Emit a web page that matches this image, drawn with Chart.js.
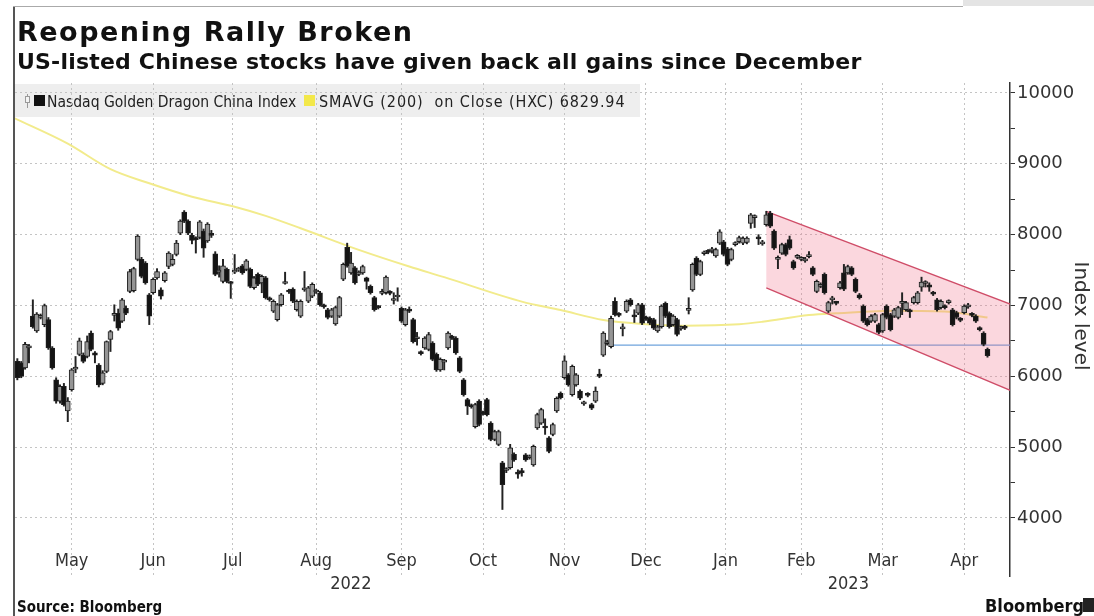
<!DOCTYPE html>
<html lang="en">
<head>
<meta charset="UTF-8">
<title>Reopening Rally Broken</title>
<script src="https://cdn.jsdelivr.net/npm/chart.js@4.4.1/dist/chart.umd.min.js"></script>
<style>
  body { margin: 0; background: #fff; }
  .frame { position: relative; width: 1094px; height: 616px; overflow: hidden; font-family: 'DejaVu Sans', sans-serif; color: #111; }
  #chart { position: absolute; left: 0; top: 0; }
  .title { position: absolute; left: 17px; top: 18px; font-weight: bold; font-size: 27px; line-height: 27px; letter-spacing: 1.5px; white-space: nowrap; }
  .subtitle { position: absolute; left: 17px; top: 51px; font-weight: bold; font-size: 22px; line-height: 22px; letter-spacing: 0.2px; white-space: nowrap; }
  .source { position: absolute; left: 17px; top: 600px; font-family: 'DejaVu Sans Condensed', sans-serif; font-weight: bold; font-size: 15px; line-height: 15px; white-space: nowrap; }
  .brand { position: absolute; left: 985px; top: 597px; font-family: 'DejaVu Sans Condensed', sans-serif; font-weight: bold; font-size: 18px; line-height: 18px; white-space: nowrap; }
  .brand-mark { position: absolute; left: 1083px; top: 598px; width: 11px; height: 14px; background: #222; }
  .edge-left { position: absolute; left: 13px; top: 6px; width: 2px; height: 610px; background: #555; }
  .edge-top { position: absolute; left: 13px; top: 6px; width: 950px; height: 1px; background: #aaa; }
  .corner { position: absolute; left: 963px; top: 0; width: 131px; height: 6px; background: #e4e4e4; }
</style>
</head>
<body>
<div class="frame">
  <canvas id="chart" width="1094" height="616"></canvas>
  <div class="edge-left"></div>
  <div class="edge-top"></div>
  <div class="corner"></div>
  <div class="title">Reopening Rally Broken</div>
  <div class="subtitle">US-listed Chinese stocks have given back all gains since December</div>
  <div class="source">Source: Bloomberg</div>
  <div class="brand">Bloomberg</div>
  <div class="brand-mark"></div>
</div>
<script>
// daily candles, one per trading day from late Apr 2022 to 25 Apr 2023 (x = trading-day index)
const opens = [
  6210, 6190, 6120, 6400, 6850, 6640, 6830, 6730, 6800, 6400,
  5950, 5650, 5860, 5510, 5810, 6100, 6310, 6300, 6280, 6610,
  6330, 6160, 5900, 6070, 6520, 6860, 6890, 6780, 6960, 7200,
  7210, 7650, 7650, 7600, 7150, 7180, 7390, 7220, 7350, 7550,
  7580, 7720, 8020, 8320, 8190, 7990, 7950, 7960, 8050, 7910,
  8010, 7730, 7470, 7340, 7510, 7330, 7470, 7500, 7560, 7510,
  7510, 7250, 7440, 7320, 7390, 7100, 6920, 6800, 7010, 7310,
  7210, 7230, 6940, 6850, 7220, 7060, 7130, 7190, 7180, 7000,
  6940, 6850, 6740, 6850, 7370, 7820, 7460, 7530, 7440, 7460,
  7390, 7270, 7110, 6990, 7170, 7180, 7190, 7070, 7120, 6960,
  6730, 6950, 6800, 6530, 6340, 6400, 6380, 6470, 6310, 6090,
  6200, 6400, 6560, 6540, 6260, 5950, 5670, 5590, 5290, 5650,
  5490, 5670, 5340, 5110, 5040, 4780, 4670, 4710, 4900, 4640,
  4660, 4890, 4850, 4750, 5270, 5340, 5290, 5130, 5180, 5510,
  5760, 5980, 6020, 5740, 5880, 5790, 5610, 5750, 5600, 5650,
  6030, 6300, 6460, 6420, 7060, 6880, 6670, 6920, 7080, 6860,
  6890, 7010, 6830, 6820, 6800, 6640, 6700, 7030, 6890, 6730,
  6800, 6670, 6700, 6930, 7220, 7670, 7440, 7730, 7770, 7770,
  7700, 7880, 7900, 7800, 7650, 7860, 7900, 7880, 7890, 8160,
  8240, 7960, 7870, 8140, 8300, 8050, 7650, 7740, 7860, 7930,
  7620, 7680, 7650, 7630, 7690, 7530, 7200, 7270, 7440, 6920,
  7080, 7050, 7250, 7460, 7460, 7530, 7370, 7150, 6990, 6800,
  6780, 6780, 6730, 6640, 6990, 6870, 6850, 6830, 7030, 6940,
  6930, 7040, 7040, 7260, 7310, 7290, 7180, 7080, 6970, 6990,
  7040, 6940, 6900, 6810, 6900, 6980, 6880, 6850, 6680, 6610,
  6380
];
const highs = [
  6250, 6210, 6480, 6450, 7080, 6900, 6880, 7020, 6830, 6420,
  5980, 5880, 5900, 5700, 6110, 6280, 6540, 6330, 6570, 6640,
  6350, 6180, 6080, 6500, 6650, 7010, 6950, 7100, 6990, 7510,
  7540, 8000, 7680, 7620, 7170, 7390, 7520, 7250, 7480, 7760,
  7720, 7920, 8210, 8340, 8210, 8020, 7970, 8200, 8080, 8170,
  8060, 7760, 7560, 7650, 7530, 7340, 7720, 7540, 7580, 7650,
  7530, 7410, 7460, 7430, 7410, 7120, 7080, 7030, 7170, 7470,
  7230, 7250, 7080, 7080, 7480, 7270, 7320, 7230, 7200, 7020,
  6960, 6960, 6990, 7130, 7600, 7880, 7750, 7550, 7490, 7570,
  7400, 7290, 7130, 7000, 7230, 7420, 7210, 7180, 7250, 6980,
  6960, 6980, 6820, 6620, 6360, 6560, 6620, 6490, 6330, 6260,
  6240, 6630, 6580, 6560, 6280, 5970, 5690, 5610, 5620, 5670,
  5510, 5690, 5360, 5240, 5240, 4800, 4710, 5040, 4920, 4680,
  4700, 4910, 4890, 5030, 5480, 5550, 5400, 5150, 5340, 5710,
  5780, 6290, 6040, 6160, 6040, 5810, 5650, 5770, 5620, 5850,
  6100, 6630, 6510, 6850, 7110, 6900, 6740, 7080, 7100, 6940,
  7030, 7030, 6850, 6840, 6820, 6720, 7010, 7050, 6910, 6870,
  6820, 6710, 6720, 7110, 7600, 7690, 7640, 7770, 7790, 7820,
  7810, 8070, 7920, 7820, 7810, 7900, 7980, 7970, 7970, 8300,
  8280, 8000, 7920, 8330, 8330, 8070, 7700, 7880, 7880, 7980,
  7640, 7720, 7690, 7680, 7760, 7550, 7360, 7320, 7460, 7060,
  7130, 7060, 7340, 7580, 7570, 7550, 7390, 7170, 7010, 6820,
  6870, 6890, 6750, 6890, 7010, 6890, 6960, 6990, 7180, 7060,
  6950, 7130, 7200, 7400, 7350, 7320, 7200, 7100, 7080, 7010,
  7080, 6960, 6920, 6830, 7010, 7030, 6900, 6870, 6700, 6630,
  6400
];
const lows = [
  5950, 5980, 6100, 6190, 6680, 6620, 6810, 6700, 6380, 6100,
  5620, 5620, 5580, 5360, 5790, 6050, 6290, 6190, 6260, 6360,
  6190, 5850, 5880, 6050, 6350, 6780, 6650, 6760, 6870, 7180,
  7190, 7630, 7390, 7300, 6730, 7160, 7370, 7090, 7330, 7520,
  7560, 7700, 8000, 8170, 8000, 7870, 7740, 7940, 7680, 7890,
  7960, 7420, 7400, 7320, 7320, 7100, 7450, 7480, 7440, 7490,
  7250, 7230, 7280, 7180, 7090, 7060, 6900, 6780, 6990, 7300,
  7170, 7040, 6920, 6830, 7200, 7040, 7110, 7170, 6990, 6960,
  6810, 6830, 6720, 6830, 7350, 7540, 7440, 7300, 7420, 7440,
  7230, 7160, 6920, 6950, 7150, 7160, 7150, 7020, 7060, 6760,
  6710, 6900, 6470, 6440, 6300, 6380, 6360, 6220, 6070, 6070,
  6090, 6380, 6520, 6310, 6050, 5720, 5460, 5550, 5270, 5300,
  5450, 5440, 5090, 5090, 5020, 4120, 4640, 4690, 4800, 4560,
  4590, 4800, 4830, 4730, 5250, 5320, 5180, 4920, 5160, 5490,
  5680, 5960, 5860, 5720, 5860, 5670, 5590, 5710, 5530, 5630,
  5980, 6280, 6440, 6400, 6850, 6840, 6570, 6900, 6990, 6760,
  6870, 6730, 6790, 6730, 6660, 6620, 6680, 6830, 6680, 6710,
  6570, 6650, 6660, 6880, 7200, 7420, 7420, 7710, 7730, 7740,
  7680, 7860, 7700, 7560, 7630, 7840, 7880, 7860, 7870, 8090,
  8100, 7860, 7850, 8120, 8100, 7790, 7520, 7720, 7700, 7790,
  7510, 7660, 7630, 7610, 7670, 7420, 7180, 7250, 7160, 6900,
  7020, 7010, 7230, 7210, 7440, 7420, 7180, 7090, 6760, 6710,
  6760, 6760, 6600, 6620, 6810, 6640, 6830, 6810, 6870, 6920,
  6830, 7020, 7020, 7200, 7260, 7200, 7140, 6920, 6950, 6950,
  7020, 6710, 6810, 6770, 6880, 6960, 6840, 6760, 6640, 6430,
  6270
];
const closes = [
  5980, 6000, 6450, 6430, 6700, 6880, 6860, 7000, 6400, 6120,
  5650, 5860, 5600, 5650, 6090, 6130, 6500, 6210, 6490, 6380,
  6300, 5880, 6050, 6490, 6630, 6890, 6680, 7080, 6890, 7480,
  7520, 7980, 7410, 7320, 6850, 7370, 7480, 7130, 7460, 7740,
  7650, 7880, 8190, 8190, 8020, 7920, 7930, 8180, 7810, 8150,
  7990, 7440, 7490, 7560, 7340, 7310, 7490, 7520, 7460, 7630,
  7270, 7390, 7300, 7410, 7110, 7080, 7060, 7010, 7150, 7330,
  7190, 7060, 7060, 7060, 7240, 7250, 7300, 7210, 7010, 6980,
  6830, 6940, 6970, 7110, 7580, 7560, 7600, 7320, 7470, 7550,
  7340, 7180, 6940, 6970, 7190, 7400, 7170, 7090, 7140, 6780,
  6940, 6920, 6490, 6550, 6320, 6540, 6590, 6240, 6090, 6240,
  6220, 6610, 6540, 6330, 6070, 5740, 5580, 5570, 5600, 5320,
  5470, 5460, 5110, 5220, 5220, 4470, 4690, 4990, 4820, 4620,
  4640, 4820, 4870, 5010, 5460, 5530, 5270, 4940, 5320, 5690,
  5700, 6220, 5880, 6140, 6020, 5690, 5630, 5730, 5550, 5790,
  6000, 6610, 6480, 6820, 6870, 6860, 6690, 7060, 7010, 6840,
  7010, 6750, 6810, 6750, 6680, 6700, 6990, 6850, 6700, 6850,
  6590, 6690, 6680, 6950, 7580, 7440, 7620, 7750, 7750, 7800,
  7790, 8040, 7720, 7580, 7790, 7880, 7960, 7950, 7950, 8280,
  8260, 7940, 7890, 8280, 8120, 7810, 7670, 7860, 7720, 7810,
  7530, 7700, 7670, 7650, 7710, 7440, 7340, 7290, 7180, 7040,
  7100, 7030, 7320, 7230, 7550, 7440, 7200, 7110, 6780, 6730,
  6850, 6870, 6620, 6870, 6830, 6660, 6940, 6970, 7050, 7040,
  6910, 7110, 7180, 7330, 7330, 7260, 7160, 6940, 7060, 6970,
  7060, 6730, 6830, 6790, 6990, 7000, 6860, 6780, 6660, 6450,
  6290
];

// 200-day simple moving average, sampled along the curve
const smaDays = [-1, 13, 24, 34, 45, 56, 64, 73, 88, 101, 110, 130, 140, 151, 161, 172, 186, 192, 204, 211, 227, 240, 250];
const smaVals = [9650, 9285, 8925, 8725, 8535, 8395, 8265, 8090, 7785, 7550, 7400, 7055, 6935, 6795, 6740, 6715, 6735, 6770, 6865, 6890, 6925, 6910, 6829.94];

// December support level
const supportDays = [153, 257];
const supportVals = [6440, 6440];

// falling channel since the late-January peak
const channelDays = [193, 257];
const channelTop = [8330, 6995];
const channelBottom = [7250, 5775];

// month axis: first trading-day index of each month, May 2022 .. May 2023
const months = ['May', 'Jun', 'Jul', 'Aug', 'Sep', 'Oct', 'Nov', 'Dec', 'Jan', 'Feb', 'Mar', 'Apr'];
const monthStarts = [4, 25, 46, 66, 89, 110, 131, 152, 173, 193, 212, 235, 254];
const years = ['2022', '2023'];
const yearStarts = [0, 173];

const yTicks = [4000, 4500, 5000, 5500, 6000, 6500, 7000, 7500, 8000, 8500, 9000, 9500, 10000];

const upFill = '#959595', downFill = '#141414', outline = '#1e1e1e';
const isUp = closes.map((c, i) => c >= opens[i]);

const bodies = opens.map((o, i) => ({ x: i, y: [Math.min(o, closes[i]), Math.max(o, closes[i])] }));
const wicks = highs.map((h, i) => ({ x: i, y: [lows[i], h] }));
const pairs = (xs, ys) => xs.map((x, i) => ({ x: x, y: ys[i] }));

const channelShape = pairs(channelDays, channelTop).concat(pairs(channelDays.slice().reverse(), channelBottom.slice().reverse()));

// legend band, month / year labels, axis caption
const overlay = {
  id: 'overlay',
  beforeDraw(chart) {
    const ctx = chart.ctx;
    ctx.save();
    ctx.fillStyle = '#eeeeee';
    ctx.fillRect(15, 84, 625, 33);
    // candle glyph
    ctx.strokeStyle = '#9a9a9a';
    ctx.lineWidth = 1;
    ctx.beginPath();
    ctx.moveTo(27.5, 94); ctx.lineTo(27.5, 108);
    ctx.stroke();
    ctx.fillStyle = '#f4f4f4';
    ctx.fillRect(25.5, 96.5, 4, 6);
    ctx.strokeRect(25.5, 96.5, 4, 6);
    ctx.fillStyle = '#111';
    ctx.fillRect(34, 95, 11, 11);
    ctx.fillStyle = '#f3e84a';
    ctx.fillRect(304, 95, 11, 11);
    ctx.fillStyle = '#222';
    ctx.textBaseline = 'alphabetic';
    ctx.font = "15.5px 'DejaVu Sans Condensed'";
    ctx.fillText('Nasdaq Golden Dragon China Index', 47, 107);
    ctx.font = "16px 'DejaVu Sans Condensed'";
    ctx.letterSpacing = '0.9px';
    ctx.fillText('SMAVG (200)  on Close (HXC) ' + smaVals[smaVals.length - 1].toFixed(2), 319, 107);
    ctx.restore();
  },
  afterDraw(chart) {
    const ctx = chart.ctx;
    const x = chart.scales.x;
    ctx.save();
    ctx.fillStyle = '#333';
    ctx.textAlign = 'center';
    ctx.textBaseline = 'middle';
    ctx.font = "18px 'DejaVu Sans Condensed'";
    months.forEach((m, k) => {
      const mid = (monthStarts[k] + monthStarts[k + 1]) / 2 - 0.5;
      ctx.fillText(m, x.getPixelForValue(mid), 561);
    });
    years.forEach((yr, k) => {
      const from = k === 0 ? x.min : yearStarts[k] - 0.5;
      const to = k === years.length - 1 ? x.max : yearStarts[k + 1] - 0.5;
      ctx.fillText(yr, x.getPixelForValue((from + to) / 2), 584);
    });
    // y axis caption, read top to bottom
    ctx.translate(1080, 316);
    ctx.rotate(Math.PI / 2);
    ctx.font = "20px 'DejaVu Sans'";
    ctx.fillText('Index level', 0, 0);
    ctx.restore();
  }
};

new Chart(document.getElementById('chart'), {
  type: 'bar',
  data: {
    datasets: [
      {
        type: 'line', data: pairs(smaDays, smaVals), borderColor: '#f2eb8c', borderWidth: 2,
        pointRadius: 0, cubicInterpolationMode: 'monotone', order: 6
      },
      {
        type: 'line', data: pairs(supportDays, supportVals), borderColor: '#6fa3dc', borderWidth: 1.2,
        pointRadius: 0, order: 6
      },
      {
        type: 'line', data: channelShape, borderColor: 'rgba(0,0,0,0)', borderWidth: 0,
        backgroundColor: 'rgba(240, 110, 135, 0.28)', fill: 'shape', pointRadius: 0, order: 4
      },
      {
        type: 'line', data: pairs(channelDays, channelTop), borderColor: '#cf4d68', borderWidth: 1.3,
        pointRadius: 0, order: 3
      },
      {
        type: 'line', data: pairs(channelDays, channelBottom), borderColor: '#cf4d68', borderWidth: 1.3,
        pointRadius: 0, order: 3
      },
      {
        data: wicks, backgroundColor: '#222', barThickness: 1.3, grouped: false, order: 2
      },
      {
        data: bodies, grouped: false, order: 1, barThickness: 5, minBarLength: 2,
        backgroundColor: isUp.map(u => u ? upFill : downFill),
        borderColor: outline, borderWidth: 1, borderSkipped: false
      }
    ]
  },
  options: {
    responsive: false,
    animation: false,
    layout: { padding: { left: 15, top: 83, right: 0, bottom: 40 } },
    plugins: { legend: { display: false }, tooltip: { enabled: false } },
    scales: {
      x: {
        type: 'linear', min: -0.6, max: 255.8, offset: false,
        afterBuildTicks: s => { s.ticks = monthStarts.map(v => ({ value: v - 0.5 })); },
        afterFit: s => { s.height = 0; },
        ticks: { display: false },
        grid: { color: '#c4c4c4', drawTicks: false, lineWidth: 1 },
        border: { display: false, dash: [2, 3] }
      },
      y: {
        type: 'linear', position: 'right', min: 3181, max: 10141,
        afterBuildTicks: s => { s.ticks = yTicks.map(v => ({ value: v })); },
        afterFit: s => { s.width = 84; },
        ticks: {
          callback: v => (v % 1000 === 0 ? String(v) : ''),
          color: '#333', font: { family: 'DejaVu Sans', size: 18 }, padding: 2, autoSkip: false
        },
        grid: {
          color: c => (c.tick && c.tick.value % 1000 === 0 ? '#c4c4c4' : 'rgba(0,0,0,0)'),
          tickColor: '#333', tickLength: 5, lineWidth: 1
        },
        border: { display: true, color: '#333', width: 1.5, dash: [2, 3] }
      }
    }
  },
  plugins: [overlay]
});
</script>
</body>
</html>
